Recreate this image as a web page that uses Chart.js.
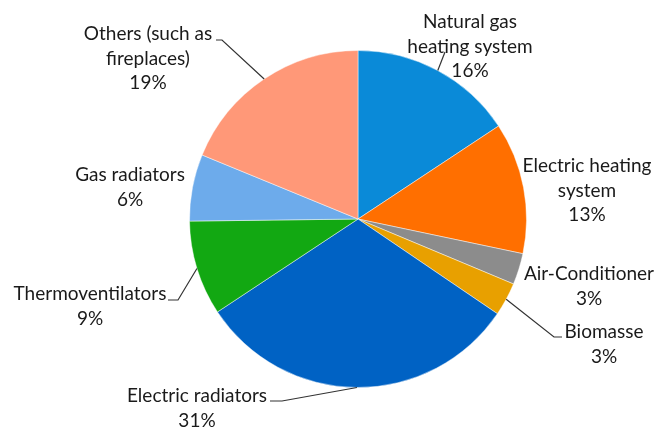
<!DOCTYPE html>
<html><head><meta charset="utf-8">
<script src="https://cdn.jsdelivr.net/npm/chart.js@4/dist/chart.umd.min.js"></script>
<style>html,body{margin:0;padding:0;background:#fff}#wrap{width:654px;height:428px}</style>
</head><body><div id="wrap"><canvas id="c" width="654" height="428"></canvas></div>
<script>
const categories = ["Natural gas heating system","Electric heating system","Air-Conditioner","Biomasse","Electric radiators","Thermoventilators","Gas radiators","Others (such as fireplaces)"];
const shares = [15.7, 12.6, 3.0, 3.2, 31.2, 9.1, 6.4, 18.8];
const labelLines = [["Natural gas","heating system"],["Electric heating","system"],["Air-Conditioner"],["Biomasse"],["Electric radiators"],["Thermoventilators"],["Gas radiators"],["Others (such as","fireplaces)"]];
const colors = ["#0A8AD8","#FF6F00","#8C8C8C","#E8A000","#0062C4","#12A812","#6DABEB","#FF9878"];

// label layout: center x, first-line center y, optional leader elbow/end (text side)
const labelLayout = [
  {x:470,y:22, leader:[[445,52]]},
  {x:587,y:166},
  {x:589,y:274},
  {x:604,y:332, leader:[[554,337],[562,337]]},
  {x:197,y:396, leader:[[282,401],[270,401]]},
  {x:90,y:294, leader:[[178,300],[168,300]]},
  {x:130,y:175},
  {x:148,y:34, leader:[[222,40],[216,40]]}
];

const labelPlugin = {
  id:'outLabels',
  afterDatasetsDraw(chart){
    const ctx = chart.ctx;
    const meta = chart.getDatasetMeta(0);
    const total = shares.reduce((a,b)=>a+b,0);
    ctx.save();
    ctx.font = '19px Lato, "Open Sans", sans-serif';
    ctx.fillStyle = '#1a1a1a';
    ctx.textAlign = 'center';
    ctx.textBaseline = 'middle';
    meta.data.forEach((arc,i)=>{
      const L = labelLayout[i];
      const lines = labelLines[i].concat([Math.round(shares[i]/total*100)+'%']);
      lines.forEach((t,k)=>ctx.fillText(t, L.x, L.y + k*24.5));
      if (L.leader){
        const mid = (arc.startAngle+arc.endAngle)/2;
        const r = arc.outerRadius;
        ctx.beginPath();
        ctx.strokeStyle = '#333';
        ctx.lineWidth = 1.2;
        ctx.moveTo(arc.x + Math.cos(mid)*r, arc.y + Math.sin(mid)*r);
        L.leader.forEach(p=>ctx.lineTo(p[0],p[1]));
        ctx.stroke();
      }
    });
    ctx.restore();
  }
};

new Chart(document.getElementById('c'), {
  type:'pie',
  data:{labels:categories, datasets:[{data:shares, backgroundColor:colors, borderColor:'rgba(255,255,255,0.45)', borderWidth:1}]},
  options:{
    responsive:false, animation:false,
    layout:{padding:{top:50,bottom:40,left:162,right:100}},
    plugins:{legend:{display:false},tooltip:{enabled:false}}
  },
  plugins:[labelPlugin]
});
</script></body></html>
